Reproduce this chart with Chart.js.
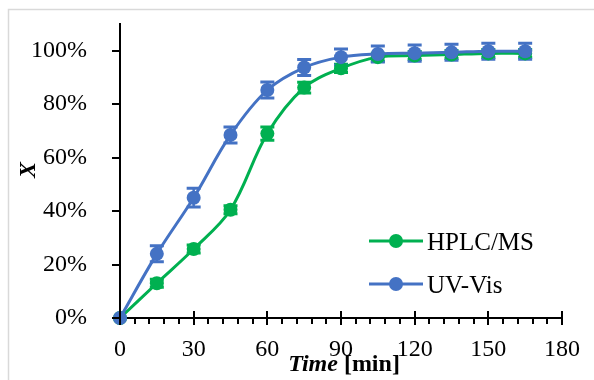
<!DOCTYPE html>
<html>
<head>
<meta charset="utf-8">
<script src="https://cdn.jsdelivr.net/npm/chart.js@4/dist/chart.umd.min.js"></script>
<style>
  html, body { margin: 0; padding: 0; background: #ffffff; }
  #wrap { position: relative; width: 594px; height: 380px; }
</style>
</head>
<body>
<div id="wrap"><canvas id="c" width="594" height="380"></canvas></div>
<script>
// ---- data ----
const timeMin = [0, 15, 30, 45, 60, 75, 90, 105, 120, 135, 150, 165];
const hplcValues = [0, 13, 25.8, 40.5, 69, 86.2, 93.4, 97.6, 98.2, 98.6, 99, 99];
const hplcErrors = [0, 1.5, 1.5, 1.5, 2.5, 2, 1.5, 1.5, 1.5, 1.5, 1.5, 1.5];
const uvValues = [0, 24, 45, 68.5, 85.3, 93.7, 97.6, 98.8, 99.1, 99.4, 99.8, 99.8];
const uvErrors = [0, 3, 3.5, 3, 3, 3, 3, 3, 3, 3, 3, 3];
const seriesNames = ['HPLC/MS', 'UV-Vis'];
const seriesColors = ['#00B050', '#4472C4'];
const xMajorTicks = [0, 30, 60, 90, 120, 150, 180];
const xMinorStep = 6;
const yTicks = [0, 20, 40, 60, 80, 100];
const xTitleParts = ['Time', ' [min]'];
const yTitle = 'X';

const FONT = '"Liberation Serif", "Times New Roman", serif';

const toXY = (vals) => vals.map((v, i) => ({ x: timeMin[i], y: v }));
const errs = [hplcErrors, uvErrors];

const customPlugin = {
  id: 'custom',
  beforeDraw(chart) {
    const ctx = chart.ctx;
    ctx.save();
    ctx.fillStyle = '#ffffff';
    ctx.fillRect(0, 0, chart.width, chart.height);
    ctx.strokeStyle = '#d9d9d9';
    ctx.lineWidth = 1.5;
    ctx.beginPath();
    ctx.moveTo(8.5, chart.height + 5);
    ctx.lineTo(8.5, 9.5);
    ctx.lineTo(chart.width + 5, 9.5);
    ctx.stroke();
    ctx.restore();
  },
  beforeDatasetsDraw(chart) {
    const ctx = chart.ctx;
    const xs = chart.scales.x, ys = chart.scales.y;
    ctx.save();
    [0, 1].forEach((d) => {
      const data = chart.data.datasets[d].data;
      ctx.strokeStyle = seriesColors[d];
      data.forEach((p, i) => {
        const e = errs[d][i];
        if (!e) return;
        const px = xs.getPixelForValue(p.x);
        const yTop = ys.getPixelForValue(p.y + e);
        const yBot = ys.getPixelForValue(p.y - e);
        ctx.lineWidth = 2.5;
        ctx.beginPath();
        ctx.moveTo(px, yTop); ctx.lineTo(px, yBot);
        ctx.stroke();
        ctx.lineWidth = 3;
        ctx.beginPath();
        ctx.moveTo(px - 7, yTop); ctx.lineTo(px + 7, yTop);
        ctx.moveTo(px - 7, yBot); ctx.lineTo(px + 7, yBot);
        ctx.stroke();
      });
    });
    ctx.restore();
  },
  afterDraw(chart) {
    const ctx = chart.ctx;
    const xs = chart.scales.x, ys = chart.scales.y;
    const area = chart.chartArea;
    ctx.save();
    ctx.strokeStyle = '#000';
    ctx.lineWidth = 2;
    // x ticks
    ctx.beginPath();
    for (let v = 0; v <= 180; v += xMinorStep) {
      const px = Math.round(xs.getPixelForValue(v));
      if (xMajorTicks.includes(v)) {
        ctx.moveTo(px, area.bottom - 7);
        ctx.lineTo(px, area.bottom + 7);
      } else {
        ctx.moveTo(px, area.bottom);
        ctx.lineTo(px, area.bottom + 6);
      }
    }
    // y ticks
    yTicks.forEach((v) => {
      const py = Math.round(ys.getPixelForValue(v));
      ctx.moveTo(area.left - 8, py);
      ctx.lineTo(area.left, py);
    });
    ctx.stroke();

    // legend
    const legY = [241, 284];
    [0, 1].forEach((d) => {
      ctx.strokeStyle = seriesColors[d];
      ctx.fillStyle = seriesColors[d];
      ctx.lineWidth = 3;
      ctx.beginPath();
      ctx.moveTo(369, legY[d]); ctx.lineTo(423, legY[d]);
      ctx.stroke();
      ctx.beginPath();
      ctx.arc(396, legY[d], 7, 0, Math.PI * 2);
      ctx.fill();
      ctx.fillStyle = '#000';
      ctx.font = '25px ' + FONT;
      ctx.textAlign = 'left';
      ctx.textBaseline = 'alphabetic';
      ctx.fillText(chart.data.datasets[d].label, 427, legY[d] + 9);
    });

    // x title
    ctx.fillStyle = '#000';
    ctx.textBaseline = 'alphabetic';
    ctx.font = 'italic bold 24px ' + FONT;
    const w1 = ctx.measureText(xTitleParts[0]).width;
    ctx.font = 'bold 24px ' + FONT;
    const w2 = ctx.measureText(xTitleParts[1]).width;
    const startX = 344 - (w1 + w2) / 2;
    ctx.textAlign = 'left';
    ctx.font = 'italic bold 24px ' + FONT;
    ctx.fillText(xTitleParts[0], startX, 371);
    ctx.font = 'bold 24px ' + FONT;
    ctx.fillText(xTitleParts[1], startX + w1, 371);

    // y title
    ctx.save();
    ctx.translate(29, 170);
    ctx.rotate(-Math.PI / 2);
    ctx.font = 'italic bold 24px ' + FONT;
    ctx.textAlign = 'center';
    ctx.textBaseline = 'middle';
    ctx.fillText(yTitle, 0, 0);
    ctx.restore();
    ctx.restore();
  }
};

new Chart(document.getElementById('c'), {
  type: 'line',
  data: {
    datasets: [
      {
        label: seriesNames[0],
        data: toXY(hplcValues),
        borderColor: seriesColors[0],
        backgroundColor: seriesColors[0],
        borderWidth: 3,
        pointRadius: 7,
        pointBorderWidth: 0,
        pointBackgroundColor: seriesColors[0],
        tension: 0.35,
        clip: false,
        order: 2
      },
      {
        label: seriesNames[1],
        data: toXY(uvValues),
        borderColor: seriesColors[1],
        backgroundColor: seriesColors[1],
        borderWidth: 3,
        pointRadius: 7,
        pointBorderWidth: 0,
        pointBackgroundColor: seriesColors[1],
        tension: 0.35,
        clip: false,
        order: 1
      }
    ]
  },
  options: {
    responsive: false,
    animation: false,
    events: [],
    layout: { padding: { left: 0, right: 32, top: 24, bottom: 0 } },
    plugins: { legend: { display: false }, tooltip: { enabled: false } },
    scales: {
      x: {
        type: 'linear',
        min: 0, max: 180,
        afterBuildTicks: (s) => { s.ticks = xMajorTicks.map(v => ({ value: v })); },
        afterFit: (s) => { s.height = 62; s.paddingLeft = 0; s.paddingRight = 0; },
        grid: { display: false },
        border: { display: true, color: '#000', width: 2 },
        ticks: { color: '#000', font: { family: FONT, size: 24 }, padding: 9, maxRotation: 0, autoSkip: false }
      },
      y: {
        type: 'linear',
        min: 0, max: 110,
        afterBuildTicks: (s) => { s.ticks = yTicks.map(v => ({ value: v })); },
        afterFit: (s) => { s.width = 120; s.paddingTop = 0; s.paddingBottom = 0; },
        grid: { display: false },
        border: { display: true, color: '#000', width: 2 },
        ticks: { color: '#000', font: { family: FONT, size: 24 }, padding: 25, callback: (v) => v + '%' }
      }
    }
  },
  plugins: [customPlugin]
});
</script>
</body>
</html>
